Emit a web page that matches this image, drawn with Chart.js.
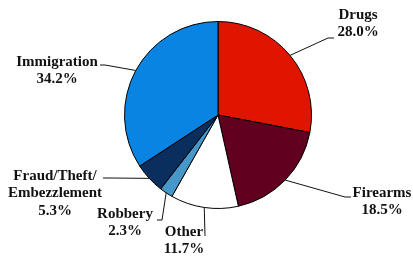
<!DOCTYPE html>
<html lang="en">
<head>
    <meta charset="UTF-8">
    <title>Offense Pie</title>
    <style>
        html, body { margin: 0; padding: 0; background: #fff; }
        #wrap { width: 413px; height: 256px; position: relative; }
    </style>
</head>
<body>
    <div id="wrap"><canvas id="offense-chart" width="413" height="256"></canvas></div>
    <script src="https://cdn.jsdelivr.net/npm/chart.js"></script>
    <script>
        // data, clockwise from 12 o'clock
        const categories = ['Drugs', 'Firearms', 'Other', 'Robbery', ['Fraud/Theft/', 'Embezzlement'], 'Immigration'];
        const percents = [28.0, 18.5, 11.7, 2.3, 5.3, 34.2];
        const sliceColors = ['#DF1500', '#620020', '#FFFFFF', '#4698CA', '#0A2F5E', '#0A84E3'];

        // where each label sits: leader line bend points, then text centre x / first line y
        const labelLayout = [
            { bends: [[328, 38], [334, 38]], tx: 358, ty: 15 },
            { bends: [[345, 197], [351, 197]], tx: 382, ty: 193 },
            { bends: [[205, 236]], tx: 184, ty: 232 },
            { bends: [[162, 220], [157, 220]], tx: 125, ty: 214 },
            { bends: [[110, 178], [103, 178]], tx: 55, ty: 176 },
            { bends: [[105, 65], [100, 65]], tx: 57, ty: 62 }
        ];

        const lineHeight = 17.5;

        // draws leader lines and labels
        const leaderLabels = {
            id: 'leaderLabels',
            afterDatasetsDraw(chart) {
                const ctx = chart.ctx;
                const meta = chart.getDatasetMeta(0);
                ctx.save();
                ctx.strokeStyle = '#111';
                ctx.lineWidth = 1;
                ctx.fillStyle = '#111';
                ctx.font = 'bold 15px "Liberation Serif", "Times New Roman", serif';
                ctx.textAlign = 'center';
                ctx.textBaseline = 'middle';

                meta.data.forEach((arc, i) => {
                    const p = arc.getProps(['x', 'y', 'startAngle', 'endAngle', 'outerRadius'], true);
                    const mid = (p.startAngle + p.endAngle) / 2;
                    const sx = p.x + Math.cos(mid) * p.outerRadius;
                    const sy = p.y + Math.sin(mid) * p.outerRadius;
                    const lay = labelLayout[i];

                    ctx.beginPath();
                    ctx.moveTo(sx, sy);
                    lay.bends.forEach(b => ctx.lineTo(b[0], b[1]));
                    ctx.stroke();

                    const lines = [].concat(categories[i], percents[i].toFixed(1) + '%');
                    lines.forEach((txt, k) => {
                        ctx.fillText(txt, lay.tx, lay.ty + k * lineHeight);
                    });
                });
                ctx.restore();
            }
        };

        new Chart(document.getElementById('offense-chart'), {
            type: 'pie',
            data: {
                labels: categories,
                datasets: [{
                    data: percents,
                    backgroundColor: sliceColors,
                    borderColor: '#000',
                    borderWidth: 1
                }]
            },
            options: {
                responsive: false,
                animation: false,
                layout: {
                    padding: { left: 124, right: 101, top: 21, bottom: 47 }
                },
                plugins: {
                    legend: { display: false },
                    tooltip: { enabled: false }
                }
            },
            plugins: [leaderLabels]
        });
    </script>
</body>
</html>
